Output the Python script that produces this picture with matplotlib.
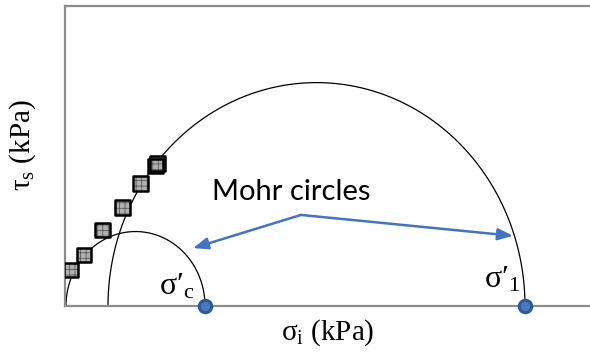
import matplotlib
matplotlib.use("Agg")

import matplotlib.pyplot as plt
import numpy as np

plt.rcParams["hatch.linewidth"] = 0.6

# Mohr circles: (sigma_3, sigma_1) for each test, in kPa
circle_s3 = [1, 43]
circle_s1 = [140, 460]
circle_labels = ["σ′$\\mathregular{_c}$", "σ′$\\mathregular{_1}$"]

# measured failure points (sigma, tau)
fail_sigma = [6, 19, 37.5, 57.5, 75.5, 90.5, 92.5]
fail_tau = [33.6, 47.6, 71.0, 92.0, 114.4, 130.7, 133.1]

# annotation
note_text = "Mohr circles"
note_xy = (226, 106)
arrow_start = (236, 85)
arrow_tips = [(128, 54), (448, 65.5)]

label_xy = [(94, 10.3), (419, 17.7)]

fig = plt.figure(figsize=(5.9, 3.53), dpi=100)
ax = fig.add_axes([65 / 590, 47 / 353, 1 - 65 / 590, 300 / 353])

# -----------------------------
# Circles
# -----------------------------
theta = np.linspace(0, np.pi, 400)
for s3, s1 in zip(circle_s3, circle_s1):
    c = (s1 + s3) / 2
    r = (s1 - s3) / 2
    ax.plot(c + r * np.cos(theta), r * np.sin(theta),
            color="black", lw=0.9, zorder=2)

# principal stress markers on the axis
ax.plot(circle_s1, [0] * len(circle_s1), "o", ms=9,
        mfc="#4a78b8", mec="#2e5a96", mew=2.2,
        clip_on=False, zorder=5)

# failure points: grey checkered fill, then black outline
ax.scatter(fail_sigma, fail_tau, marker="s", s=110,
           facecolor="#b0b0b0", edgecolor="#5a5a5a",
           linewidths=0, hatch="+++", zorder=4)
ax.scatter(fail_sigma, fail_tau, marker="s", s=110,
           facecolor="none", edgecolor="black",
           linewidths=1.8, zorder=4)

# -----------------------------
# Labels and arrows
# -----------------------------
for txt, (x, y) in zip(circle_labels, label_xy):
    ax.text(x, y, txt, fontsize=23, family="Liberation Serif",
            ha="left", va="baseline")

ax.text(*note_xy, note_text, fontsize=21, family="Lato",
        ha="center", va="center")

for tip in arrow_tips:
    ax.annotate("", xy=tip, xytext=arrow_start,
                arrowprops=dict(arrowstyle="-|>,head_length=0.9,head_width=0.35",
                                color="#4472c4", lw=1.8,
                                shrinkA=0, shrinkB=0))

ax.set_xlim(0, 525)
ax.set_ylim(0, 280)
ax.set_xticks([])
ax.set_yticks([])

for side in ["left", "bottom", "top"]:
    ax.spines[side].set_color("#8c8c8c")
    ax.spines[side].set_linewidth(1.6)
ax.spines["right"].set_visible(False)

ax.set_xlabel("σ$\\mathregular{_i}$ (kPa)", fontsize=21,
              family="Liberation Serif", labelpad=8)
ax.set_ylabel("τ$\\mathregular{_s}$ (kPa)", fontsize=21,
              family="Liberation Serif")
ax.yaxis.set_label_coords(-0.052, 0.537)

fig.savefig("out.png", dpi=100)
plt.close("all")
